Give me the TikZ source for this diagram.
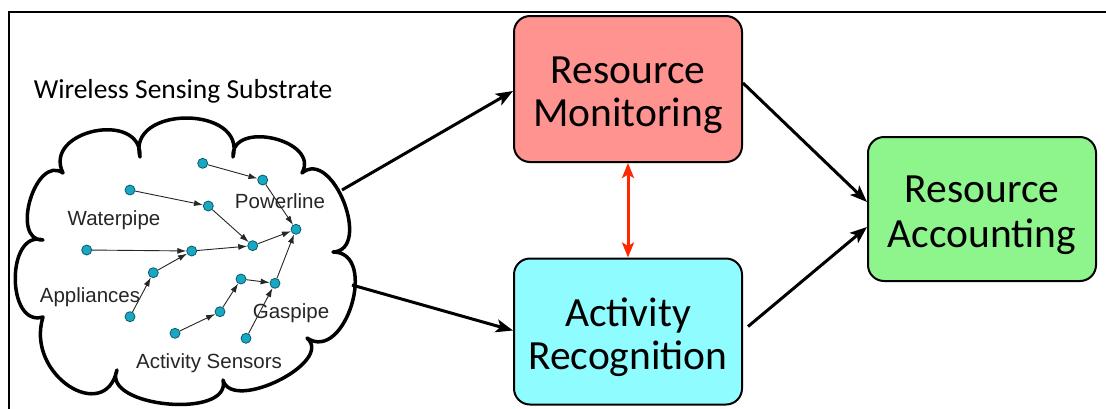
\documentclass[tikz,border=0pt]{standalone}
\usepackage{fontspec}
\setmainfont{Carlito}
\newfontfamily\arialf{Liberation Sans}
\usetikzlibrary{arrows.meta,calc}
\definecolor{rmfill}{RGB}{255,147,143}
\definecolor{arfill}{RGB}{143,252,255}
\definecolor{rafill}{RGB}{142,245,140}
\definecolor{sensfill}{RGB}{24,168,194}
\definecolor{sensline}{RGB}{10,90,110}
\definecolor{redarrow}{RGB}{255,40,0}
\newcommand\dnline[1]{\raisebox{-6pt}[\height][\depth]{#1}}
\begin{document}
\begin{tikzpicture}[x=1pt,y=-1pt,
  bigbox/.style={draw=black, line width=2pt, rounded corners=16pt, minimum width=228pt, minimum height=146pt, align=center, font=\fontsize{41.5}{43}\selectfont, text=black, inner sep=0pt},
  sensor/.style={circle, draw=sensline, fill=sensfill, line width=0.8pt, minimum size=10pt, inner sep=0pt},
  link/.style={draw=black!85, line width=0.9pt, -{Latex[length=9pt,width=6pt]}},
  flow/.style={line width=3pt, -{Stealth[length=17pt,width=13pt,inset=4pt]}},
  biflow/.style={draw=redarrow, line width=3pt, {Stealth[length=15pt,width=12pt,inset=3.5pt]}-{Stealth[length=15pt,width=12pt,inset=3.5pt]}},
  lbl/.style={font=\arialf\fontsize{20.5}{24}\selectfont, text=black!85, inner sep=0pt},
  cloudline/.style={draw=black, line width=3.5pt, line join=round, fill=white}
]
\useasboundingbox (0,0) rectangle (1106,408);
% frame
\draw[line width=2.5pt] (9,410) -- (9,12) -- (1108,12);
% cloud
\draw[cloudline] (43,240)
  .. controls (9.6,241) and (35.6,153.8) .. (63,173)
  .. controls (42,130.2) and (142.2,109.4) .. (140,157)
  .. controls (126,105) and (247,105) .. (233,157)
  .. controls (230.9,119.2) and (320.5,140) .. (302,173)
  .. controls (332.6,147.4) and (372.8,250) .. (333,252)
  .. controls (379.1,251.9) and (345.3,363.7) .. (307,338)
  .. controls (334.7,362.1) and (232,413) .. (223,380)
  .. controls (232.3,419.7) and (100.5,407.3) .. (117,370)
  .. controls (105,425) and (25,375) .. (43,317)
  .. controls (6,328) and (6,229) .. (43,240) -- cycle;
\coordinate (c1) at (342,190);
\coordinate (c2) at (352,285);
% title
\node[font=\fontsize{27.5}{32}\selectfont, inner sep=0pt] (title) at (183,91) {Wireless Sensing Substrate};
% labels
\node[lbl] (lw) at (114,220) {Waterpipe};
\node[lbl] (lp) at (280,201) {Powerline};
\node[lbl] (la) at (90,297) {Appliances};
\node[lbl] (lg) at (291,313) {Gaspipe};
\node[lbl] (ls) at (209,363) {Activity Sensors};
% sensors
\node[sensor] (s1) at (202.7,163.3) {};
\node[sensor] (s2) at (262.7,180) {};
\node[sensor] (s3) at (130,190) {};
\node[sensor] (s4) at (208.3,206) {};
\node[sensor] (s5) at (296,229.3) {};
\node[sensor] (s6) at (252.7,245.7) {};
\node[sensor] (s7) at (191.7,251) {};
\node[sensor] (s8) at (86.7,250) {};
\node[sensor] (s9) at (153.3,272.7) {};
\node[sensor] (s10) at (130,316.7) {};
\node[sensor] (s11) at (241,279) {};
\node[sensor] (s12) at (275,283.3) {};
\node[sensor] (s13) at (220,311.7) {};
\node[sensor] (s14) at (175,333.3) {};
\node[sensor] (s15) at (246,338.3) {};
\draw[link] (s1) -- (s2);
\draw[link] (s2) -- (s5);
\draw[link] (s3) -- (s4);
\draw[link] (s4) -- (s6);
\draw[link] (s8) -- (s7);
\draw[link] (s7) -- (s6);
\draw[link] (s6) -- (s5);
\draw[link] (s10) -- (s9);
\draw[link] (s9) -- (s7);
\draw[link] (s14) -- (s13);
\draw[link] (s13) -- (s11);
\draw[link] (s11) -- (s12);
\draw[link] (s12) -- (s5);
\draw[link] (s15) -- (s12);
% boxes
\node[bigbox, fill=rmfill] (rm) at (628,89) {\dnline{Resource}\\\dnline{Monitoring}};
\node[bigbox, fill=arfill] (ar) at (628,331.5) {\dnline{Activity}\\\dnline{Recognition}};
\node[bigbox, fill=rafill, minimum height=144pt] (ra) at (982,209) {\dnline{Resource}\\[2pt]\dnline{Accounting}};
% arrows
\draw[flow] (c1) -- ([yshift=-2pt]rm.west);
\draw[flow] (c2) -- ([yshift=1pt]ar.west);
\draw[flow] ([yshift=6pt]rm.east) -- ([yshift=7pt]ra.west);
\draw[flow] ([xshift=5pt,yshift=5pt]ar.east) -- ([yshift=-18pt]ra.west);
\draw[biflow] (rm.south) -- (ar.north);
\end{tikzpicture}
\end{document}
